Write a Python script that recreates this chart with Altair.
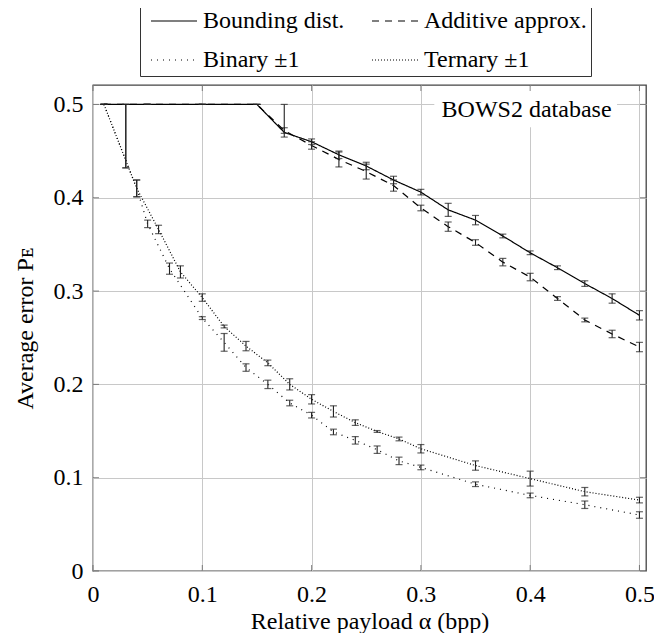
import altair as alt
import pandas as pd

# ---------------- data ----------------
series_names = ["Bounding dist.", "Additive approx.", "Binary ±1", "Ternary ±1"]

x_bd = [0.01, 0.03, 0.05, 0.1, 0.15, 0.175, 0.2, 0.225, 0.25, 0.275, 0.3,
        0.325, 0.35, 0.375, 0.4, 0.425, 0.45, 0.475, 0.5]
y_bound = [0.5, 0.5, 0.5, 0.5, 0.5, 0.470, 0.460, 0.446, 0.434, 0.419, 0.406,
           0.387, 0.376, 0.359, 0.341, 0.325, 0.308, 0.292, 0.274]
lo_bound = [0.5, 0.432, 0.5, 0.5, 0.5, 0.465, 0.457, 0.442, 0.430, 0.415, 0.403,
            0.380, 0.371, 0.357, 0.339, 0.323, 0.305, 0.287, 0.269]
hi_bound = [0.5, 0.5, 0.5, 0.5, 0.5, 0.5, 0.463, 0.450, 0.438, 0.423, 0.409,
            0.394, 0.381, 0.361, 0.343, 0.327, 0.311, 0.297, 0.279]

y_add = [0.5, 0.5, 0.5, 0.5, 0.5, 0.472, 0.456, 0.441, 0.428, 0.413, 0.389,
         0.369, 0.352, 0.331, 0.315, 0.292, 0.269, 0.254, 0.240]
lo_add = [0.5, 0.432, 0.5, 0.5, 0.5, 0.469, 0.452, 0.433, 0.420, 0.407, 0.386,
          0.364, 0.349, 0.327, 0.311, 0.290, 0.267, 0.250, 0.235]
hi_add = [0.5, 0.5, 0.5, 0.5, 0.5, 0.475, 0.460, 0.449, 0.436, 0.419, 0.392,
          0.374, 0.355, 0.335, 0.319, 0.294, 0.271, 0.258, 0.245]

x_bin = [0.01, 0.04, 0.05, 0.07, 0.1, 0.12, 0.14, 0.16, 0.18, 0.2, 0.22, 0.24,
         0.26, 0.28, 0.3, 0.35, 0.4, 0.45, 0.5]
y_bin = [0.5, 0.41, 0.372, 0.324, 0.271, 0.245, 0.218, 0.200, 0.180, 0.167,
         0.149, 0.140, 0.130, 0.118, 0.111, 0.093, 0.081, 0.071, 0.060]
e_bin = [0.0, 0.009, 0.004, 0.006, 0.0015, 0.0095, 0.004, 0.0045, 0.003, 0.003,
         0.003, 0.004, 0.004, 0.004, 0.0025, 0.0025, 0.0025, 0.004, 0.0035]

x_ter = [0.01, 0.04, 0.06, 0.08, 0.1, 0.12, 0.14, 0.16, 0.18, 0.2, 0.22, 0.24,
         0.26, 0.28, 0.3, 0.35, 0.4, 0.45, 0.5]
y_ter = [0.5, 0.41, 0.366, 0.3205, 0.293, 0.262, 0.241, 0.223, 0.200, 0.184,
         0.171, 0.159, 0.1495, 0.1415, 0.131, 0.113, 0.099, 0.085, 0.076]
e_ter = [0.0, 0.009, 0.0045, 0.0065, 0.004, 0.0015, 0.005, 0.003, 0.006, 0.005,
         0.006, 0.003, 0.001, 0.002, 0.0045, 0.005, 0.008, 0.0045, 0.003]

tick_vals = [0, 0.1, 0.2, 0.3, 0.4, 0.5]
x_domain = [0, 0.506]
y_domain = [0, 0.5208]

annot_text = ["BOWS2 database"]

# ---------------- build tables ----------------
rows = []
for xs_, ys_, los, his, name in [
    (x_bd, y_bound, lo_bound, hi_bound, series_names[0]),
    (x_bd, y_add, lo_add, hi_add, series_names[1]),
]:
    for a, b, c, d in zip(xs_, ys_, los, his):
        rows.append(dict(series=name, x=a, y=b, lo=c, hi=d))
for xs_, ys_, es, name in [
    (x_bin, y_bin, e_bin, series_names[2]),
    (x_ter, y_ter, e_ter, series_names[3]),
]:
    for a, b, e in zip(xs_, ys_, es):
        rows.append(dict(series=name, x=a, y=b, lo=b - e, hi=b + e))
df = pd.DataFrame(rows)

df_ticks = pd.DataFrame({"v": tick_vals, "lo": [x_domain[0]] * len(tick_vals),
                         "hiX": [x_domain[1]] * len(tick_vals),
                         "hiY": [y_domain[1]] * len(tick_vals)})

df_box = pd.DataFrame({"x": [0.3123], "x2": [0.4795], "y": [0.4755], "y2": [0.5195]})
df_txt = pd.DataFrame({"x": [0.4745], "y": [0.4864], "t": annot_text})

FONT = "Liberation Serif"
xs = alt.Scale(domain=x_domain, nice=False, zero=False)
ys = alt.Scale(domain=y_domain, nice=False, zero=False)

x_axis = alt.Axis(values=tick_vals, format="~g", title="Relative payload α (bpp)",
                  labelFlush=False, ticks=False, domain=False, grid=True,
                  labelFont=FONT, labelFontSize=24, labelColor="black",
                  titleFont=FONT, titleFontSize=24, titleFontWeight="normal",
                  titleColor="black", labelPadding=11, titlePadding=3)
y_axis = alt.Axis(values=tick_vals, format="~g", title="Average error Pᴇ",
                  ticks=False, domain=False, grid=True,
                  labelFont=FONT, labelFontSize=24, labelColor="black",
                  titleFont=FONT, titleFontSize=24, titleFontWeight="normal",
                  titleColor="black", labelPadding=10, titlePadding=16)

base = alt.Chart(df)

box = alt.Chart(df_box).mark_rect(color="white").encode(
    x=alt.X("x:Q", scale=xs, axis=x_axis), x2="x2:Q",
    y=alt.Y("y:Q", scale=ys, axis=y_axis), y2="y2:Q")

txt = alt.Chart(df_txt).mark_text(font=FONT, fontSize=24, align="right",
                                  baseline="alphabetic", color="black").encode(
    x=alt.X("x:Q", scale=xs), y=alt.Y("y:Q", scale=ys), text="t:N")

lines = base.mark_line(color="black", strokeWidth=1.2).encode(
    x=alt.X("x:Q", scale=xs),
    y=alt.Y("y:Q", scale=ys),
    strokeDash=alt.StrokeDash(
        "series:N",
        scale=alt.Scale(domain=series_names,
                        range=[[1, 0], [7, 6], [1, 5], [1, 2]]),
        legend=alt.Legend(title=None, orient="none", legendX=47, legendY=-80,
                          columns=2, direction="horizontal",
                          symbolType="M-1,0H8.2", symbolSize=100,
                          symbolStrokeWidth=1.2, symbolStrokeColor="black",
                          labelFont=FONT, labelFontSize=24, labelColor="black",
                          labelOffset=35, columnPadding=20, rowPadding=15,
                          padding=4, strokeColor="#333", fillColor="white",
                          labelLimit=0)),
)

bars = base.mark_rule(color="#222", strokeWidth=1.1).encode(
    x=alt.X("x:Q", scale=xs), y=alt.Y("lo:Q", scale=ys), y2="hi:Q")
cap_lo = base.mark_tick(orient="horizontal", size=7, thickness=1.2, color="#222").encode(
    x=alt.X("x:Q", scale=xs), y=alt.Y("lo:Q", scale=ys))
cap_hi = base.mark_tick(orient="horizontal", size=7, thickness=1.2, color="#222").encode(
    x=alt.X("x:Q", scale=xs), y=alt.Y("hi:Q", scale=ys))

tk = alt.Chart(df_ticks)
t_left = tk.mark_tick(orient="horizontal", size=6, thickness=1, color="#555", xOffset=3).encode(
    x=alt.X("lo:Q", scale=xs), y=alt.Y("v:Q", scale=ys))
t_right = tk.mark_tick(orient="horizontal", size=6, thickness=1, color="#555", xOffset=-3).encode(
    x=alt.X("hiX:Q", scale=xs), y=alt.Y("v:Q", scale=ys))
t_bottom = tk.mark_tick(orient="vertical", size=6, thickness=1, color="#555", yOffset=-3).encode(
    x=alt.X("v:Q", scale=xs), y=alt.Y("lo:Q", scale=ys))
t_top = tk.mark_tick(orient="vertical", size=6, thickness=1, color="#555", yOffset=3).encode(
    x=alt.X("v:Q", scale=xs), y=alt.Y("hiY:Q", scale=ys))

chart = alt.layer(box, t_left, t_right, t_bottom, t_top, lines, bars, cap_lo, cap_hi, txt).properties(
    width=553, height=486,
    padding={"left": 85, "top": 77, "right": 8, "bottom": 62},
    autosize=alt.AutoSizeParams(type="none"),
).configure_view(stroke="#444", strokeWidth=1.3).configure_axis(
    gridColor="#c8c8c8", gridWidth=1, labelFont=FONT, labelFontSize=24,
    labelColor="black", titleFont=FONT, titleFontSize=24, titleFontWeight="normal",
    titleColor="black",
)

chart.save("out.html", embed_options={"renderer": "svg", "actions": False})
